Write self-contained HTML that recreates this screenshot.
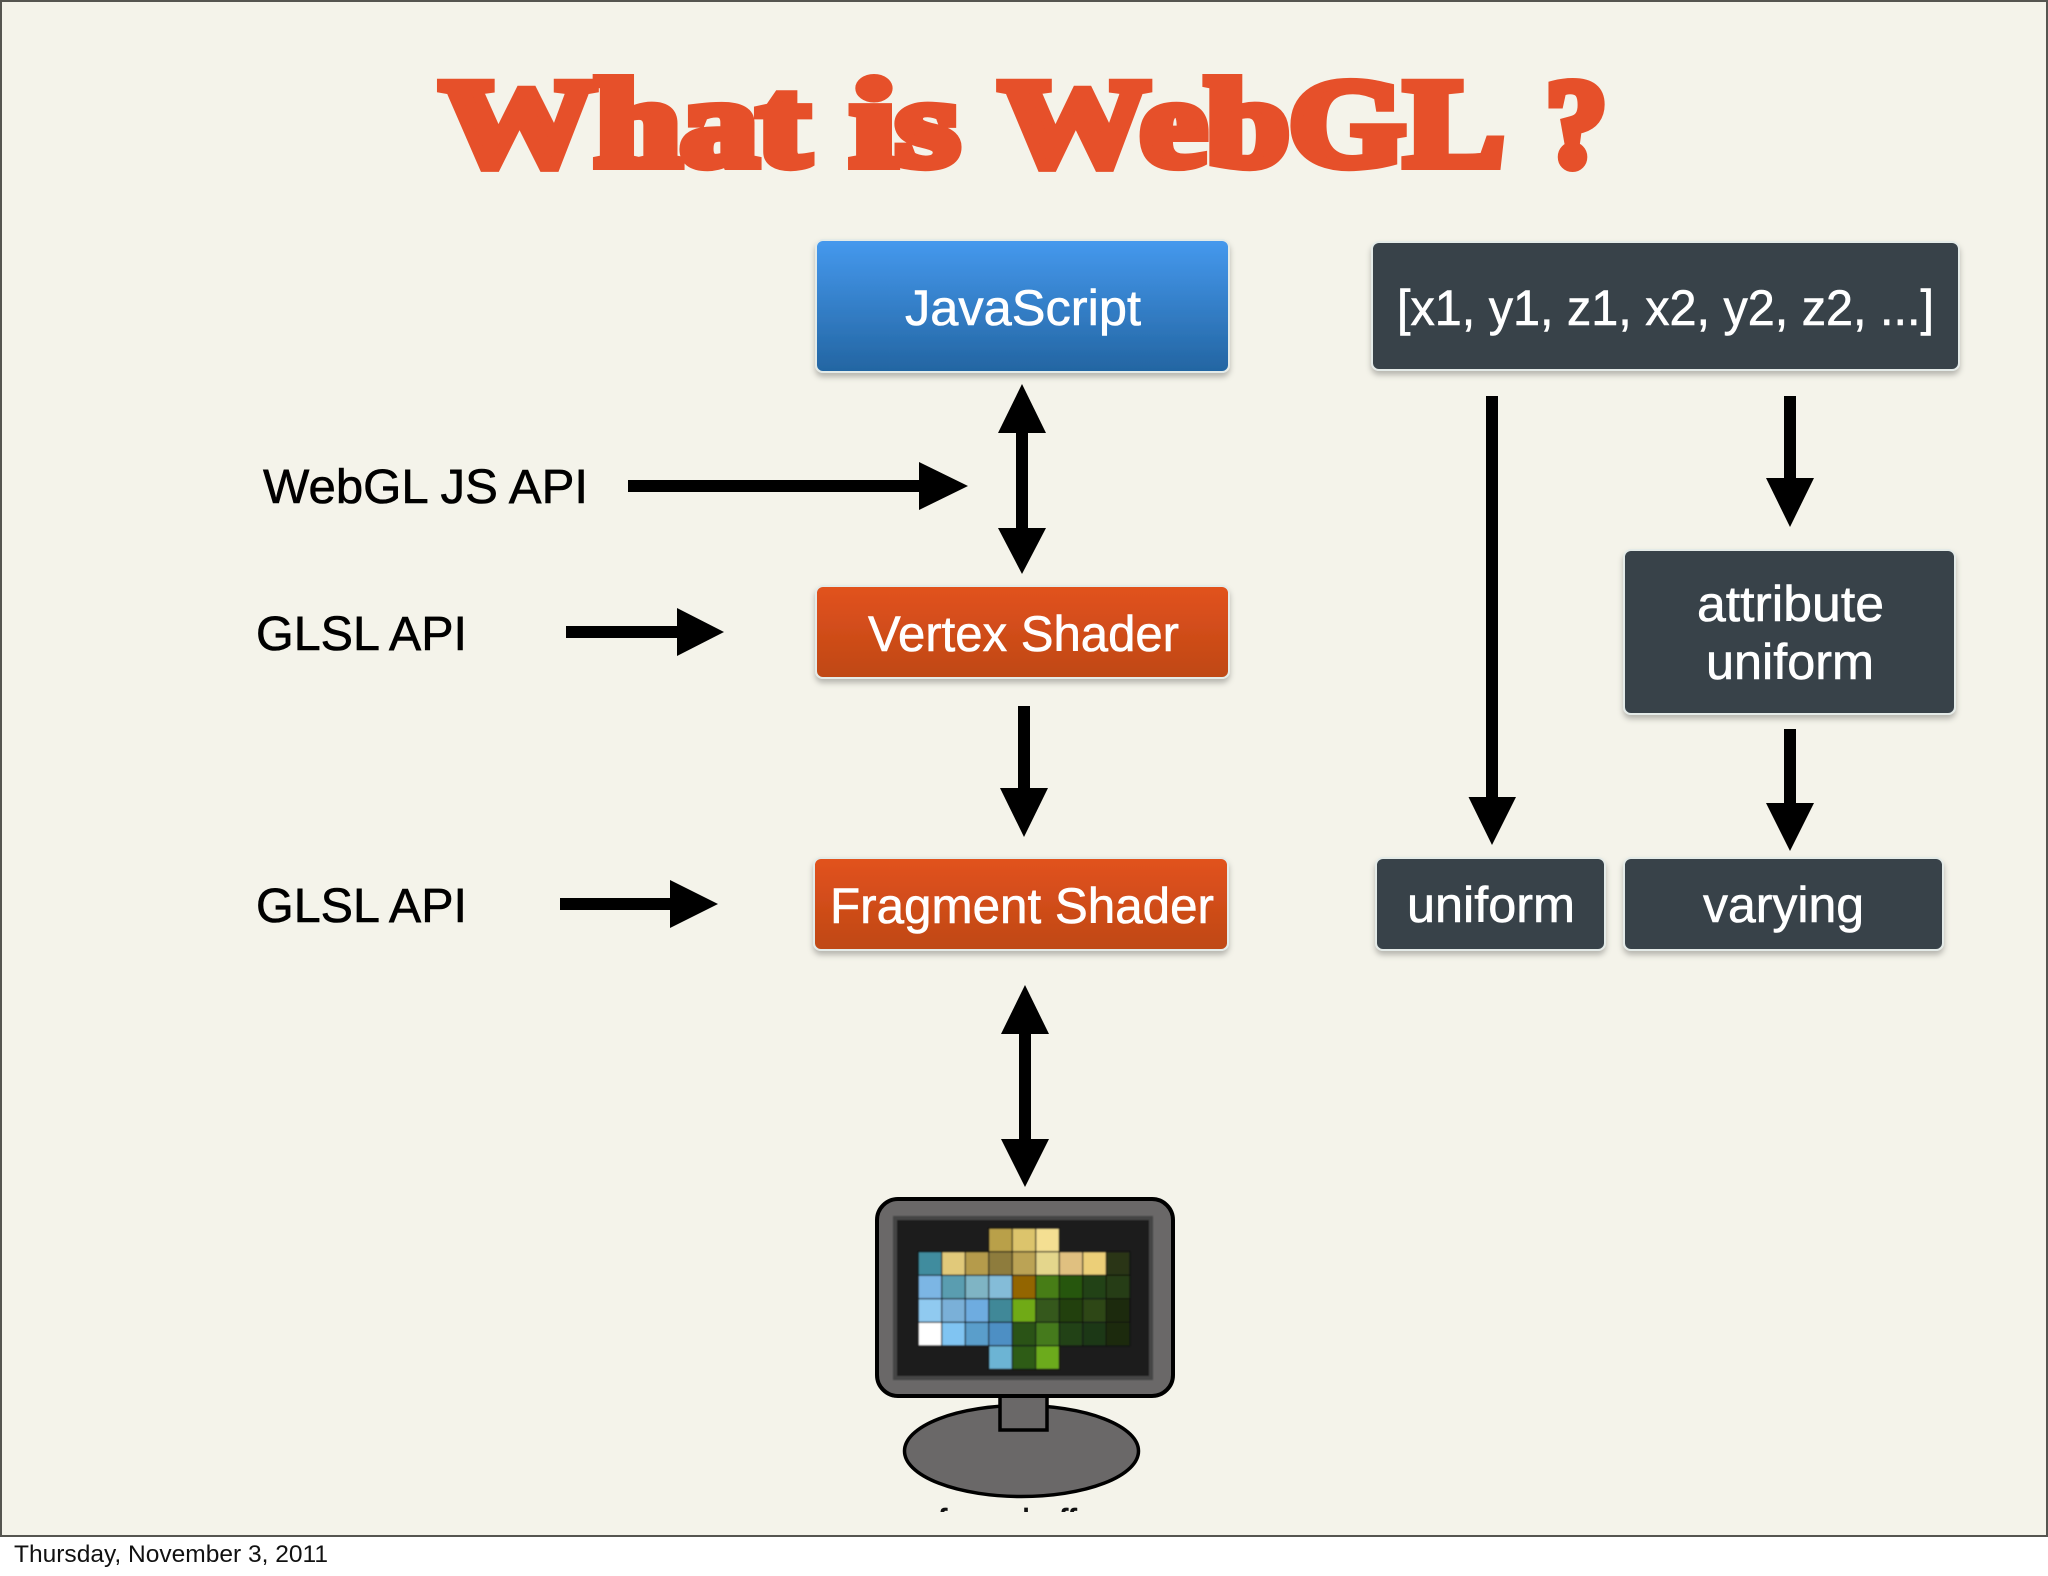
<!DOCTYPE html>
<html><head><meta charset="utf-8"><style>
html,body{margin:0;padding:0;background:#fff;width:2048px;height:1576px;overflow:hidden}
svg{display:block}
text{font-family:"Liberation Sans",sans-serif}
.w{fill:#fff;stroke:#fff;stroke-width:.6px;font-size:50px}
.k{fill:#000;stroke:#000;stroke-width:.6px;font-size:48px}
.t{font-family:"Liberation Serif",serif;font-weight:bold;font-size:124px;fill:#e6502a;stroke:#e6502a;stroke-width:10px;stroke-linejoin:miter;stroke-miterlimit:2}
</style></head><body>
<svg width="2048" height="1576" viewBox="0 0 2048 1576" xmlns="http://www.w3.org/2000/svg">
<defs>
<linearGradient id="b" x1="0" y1="0" x2="0" y2="1"><stop offset="0" stop-color="#4599ee"/><stop offset="1" stop-color="#2365a2"/></linearGradient>
<linearGradient id="o" x1="0" y1="0" x2="0" y2="1"><stop offset="0" stop-color="#e2521f"/><stop offset="1" stop-color="#bf4814"/></linearGradient>
<filter id="s" x="-5%" y="-10%" width="110%" height="125%"><feDropShadow dx="0" dy="4" stdDeviation="3" flood-color="#000" flood-opacity=".25"/></filter>
<filter id="bl" x="-5%" y="-5%" width="110%" height="110%"><feGaussianBlur stdDeviation="0.9"/></filter>
<clipPath id="cut"><rect x="900" y="1500" width="260" height="12"/></clipPath>
</defs>

<rect x="1" y="1" width="2046" height="1535" fill="#f4f3ea" stroke="#555550" stroke-width="2"/>

<text class="t" x="441" y="165" textLength="368" lengthAdjust="spacingAndGlyphs">What</text>
<text class="t" x="851" y="165" textLength="108" lengthAdjust="spacingAndGlyphs">is</text>
<text class="t" x="1000" y="165" textLength="504" lengthAdjust="spacingAndGlyphs">WebGL</text>
<text class="t" x="1546" y="165" textLength="61" lengthAdjust="spacingAndGlyphs">?</text>

<g stroke="#e4ebe8" stroke-width="2" filter="url(#s)">
<rect x="816" y="240" width="413" height="132" rx="7" fill="url(#b)"/>
<rect x="1372" y="242" width="587" height="128" rx="7" fill="#39424a"/>
<rect x="816" y="586" width="413" height="92" rx="7" fill="url(#o)"/>
<rect x="814" y="858" width="414" height="92" rx="7" fill="url(#o)"/>
<rect x="1624" y="550" width="331" height="164" rx="7" fill="#39424a"/>
<rect x="1376" y="858" width="229" height="92" rx="7" fill="#39424a"/>
<rect x="1624" y="858" width="319" height="92" rx="7" fill="#39424a"/>
</g>

<text class="w" x="905" y="325" textLength="236" lengthAdjust="spacingAndGlyphs">JavaScript</text>
<text class="w" x="1397" y="325" textLength="537" lengthAdjust="spacingAndGlyphs">[x1, y1, z1, x2, y2, z2, ...]</text>
<text class="w" x="868" y="651" textLength="311" lengthAdjust="spacingAndGlyphs">Vertex Shader</text>
<text class="w" x="830" y="923" textLength="384" lengthAdjust="spacingAndGlyphs">Fragment Shader</text>
<text class="w" x="1697" y="621" textLength="187" lengthAdjust="spacingAndGlyphs">attribute</text>
<text class="w" x="1706" y="679" textLength="168" lengthAdjust="spacingAndGlyphs">uniform</text>
<text class="w" x="1407" y="922" textLength="168" lengthAdjust="spacingAndGlyphs">uniform</text>
<text class="w" x="1703" y="922" textLength="161" lengthAdjust="spacingAndGlyphs">varying</text>

<text class="k" x="263" y="503" textLength="325" lengthAdjust="spacingAndGlyphs">WebGL JS API</text>
<text class="k" x="256" y="650" textLength="211" lengthAdjust="spacingAndGlyphs">GLSL API</text>
<text class="k" x="256" y="922" textLength="211" lengthAdjust="spacingAndGlyphs">GLSL API</text>

<g fill="#000">
<rect x="1016" y="430" width="12" height="100"/><polygon points="1022,384 998,433 1046,433"/><polygon points="1022,574 998,528 1046,528"/>
<rect x="628" y="480" width="293" height="12"/><polygon points="968,486 919,462 919,510"/>
<rect x="566" y="626" width="113" height="12"/><polygon points="724,632 677,608 677,656"/>
<rect x="1018" y="706" width="12" height="84"/><polygon points="1024,837 1000,788 1048,788"/>
<rect x="560" y="898" width="112" height="12"/><polygon points="718,904 670,880 670,928"/>
<rect x="1019" y="1030" width="12" height="112"/><polygon points="1025,985 1001,1034 1049,1034"/><polygon points="1025,1187 1001,1139 1049,1139"/>
<rect x="1486" y="396" width="12" height="403"/><polygon points="1492,845 1468.500,797 1516,797"/>
<rect x="1784" y="396" width="12" height="84"/><polygon points="1790,527 1766,478 1814,478"/>
<rect x="1784" y="729" width="12" height="76"/><polygon points="1790,851 1766,803 1814,803"/>
</g>

<ellipse cx="1021.500" cy="1451" rx="117" ry="45.500" fill="#6a6868" stroke="#000" stroke-width="3.500"/>
<rect x="1000" y="1395" width="47" height="35" fill="#6a6868" stroke="#000" stroke-width="3.500"/>
<rect x="877" y="1199" width="296" height="197" rx="21" fill="#6a6868" stroke="#000" stroke-width="4"/>
<rect x="895" y="1218" width="256" height="160" fill="#1a1a1a" stroke="#444" stroke-width="4" filter="url(#bl)"/>
<g filter="url(#bl)" stroke="#111" stroke-width="1">
<rect x="988.800" y="1228.300" width="23.500" height="23.500" fill="#b9a04a"/><rect x="1012.300" y="1228.300" width="23.500" height="23.500" fill="#dcc46c"/><rect x="1035.800" y="1228.300" width="23.500" height="23.500" fill="#f4df92"/>
<rect x="918.300" y="1251.800" width="23.500" height="23.500" fill="#418c9e"/><rect x="941.800" y="1251.800" width="23.500" height="23.500" fill="#e1c97a"/><rect x="965.300" y="1251.800" width="23.500" height="23.500" fill="#b59b4c"/><rect x="988.800" y="1251.800" width="23.500" height="23.500" fill="#8e7b3c"/><rect x="1012.300" y="1251.800" width="23.500" height="23.500" fill="#bba354"/><rect x="1035.800" y="1251.800" width="23.500" height="23.500" fill="#e4d68c"/><rect x="1059.300" y="1251.800" width="23.500" height="23.500" fill="#e0c080"/><rect x="1082.800" y="1251.800" width="23.500" height="23.500" fill="#eccf78"/><rect x="1106.300" y="1251.800" width="23.500" height="23.500" fill="#2a3518"/>
<rect x="918.300" y="1275.300" width="23.500" height="23.500" fill="#7cb6e4"/><rect x="941.800" y="1275.300" width="23.500" height="23.500" fill="#5a9db0"/><rect x="965.300" y="1275.300" width="23.500" height="23.500" fill="#7fb4c4"/><rect x="988.800" y="1275.300" width="23.500" height="23.500" fill="#84bcd8"/><rect x="1012.300" y="1275.300" width="23.500" height="23.500" fill="#936500"/><rect x="1035.800" y="1275.300" width="23.500" height="23.500" fill="#467d18"/><rect x="1059.300" y="1275.300" width="23.500" height="23.500" fill="#28560e"/><rect x="1082.800" y="1275.300" width="23.500" height="23.500" fill="#234212"/><rect x="1106.300" y="1275.300" width="23.500" height="23.500" fill="#263c12"/>
<rect x="918.300" y="1298.800" width="23.500" height="23.500" fill="#90caf0"/><rect x="941.800" y="1298.800" width="23.500" height="23.500" fill="#7ab0d8"/><rect x="965.300" y="1298.800" width="23.500" height="23.500" fill="#6eace0"/><rect x="988.800" y="1298.800" width="23.500" height="23.500" fill="#3f8898"/><rect x="1012.300" y="1298.800" width="23.500" height="23.500" fill="#70aa16"/><rect x="1035.800" y="1298.800" width="23.500" height="23.500" fill="#34591a"/><rect x="1059.300" y="1298.800" width="23.500" height="23.500" fill="#22400f"/><rect x="1082.800" y="1298.800" width="23.500" height="23.500" fill="#2d4716"/><rect x="1106.300" y="1298.800" width="23.500" height="23.500" fill="#1b2a10"/>
<rect x="918.300" y="1322.300" width="23.500" height="23.500" fill="#fff"/><rect x="941.800" y="1322.300" width="23.500" height="23.500" fill="#80c4f2"/><rect x="965.300" y="1322.300" width="23.500" height="23.500" fill="#5a9ecb"/><rect x="988.800" y="1322.300" width="23.500" height="23.500" fill="#4e8fc4"/><rect x="1012.300" y="1322.300" width="23.500" height="23.500" fill="#2c5219"/><rect x="1035.800" y="1322.300" width="23.500" height="23.500" fill="#457a1f"/><rect x="1059.300" y="1322.300" width="23.500" height="23.500" fill="#234214"/><rect x="1082.800" y="1322.300" width="23.500" height="23.500" fill="#1f3717"/><rect x="1106.300" y="1322.300" width="23.500" height="23.500" fill="#1e2c0c"/>
<rect x="988.800" y="1345.800" width="23.500" height="23.500" fill="#6cb4d4"/><rect x="1012.300" y="1345.800" width="23.500" height="23.500" fill="#2f5b14"/><rect x="1035.800" y="1345.800" width="23.500" height="23.500" fill="#6cab1a"/>
</g>

<text x="938" y="1532" font-size="33" fill="#111" stroke="#111" stroke-width=".8" clip-path="url(#cut)">framebuffer</text>

<text x="14" y="1562" font-size="24" fill="#111" textLength="314" lengthAdjust="spacingAndGlyphs">Thursday, November 3, 2011</text>
</svg>
</body></html>
